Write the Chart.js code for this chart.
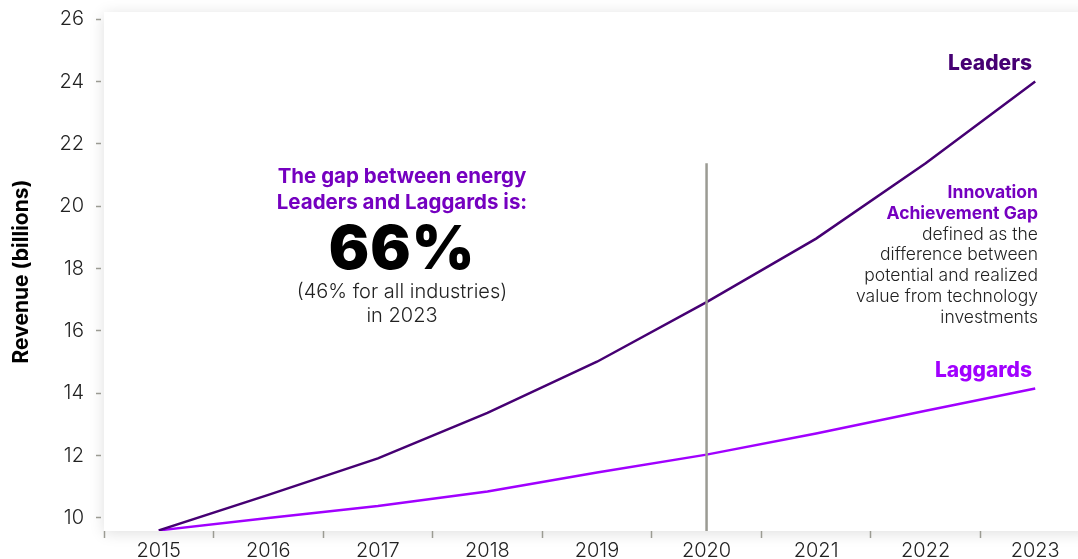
<!DOCTYPE html>
<html>
<head>
<meta charset="utf-8">
<script src="https://cdn.jsdelivr.net/npm/chart.js@4/dist/chart.umd.min.js"></script>
<style>
  html, body { margin: 0; padding: 0; background: #fff; }
  #viewport { position: relative; width: 1078px; height: 559px; overflow: hidden; }
  #chartBox { position: absolute; left: 0; top: 0; width: 1090px; height: 559px; }
  .note { position: absolute; font-family: Inter, "Noto Sans", sans-serif; white-space: nowrap; }
  #gapNote { left: 252px; top: 163px; width: 300px; text-align: center; }
  #gapNote .head { color: #7500C0; font-weight: 700; font-size: 20.5px; line-height: 26px; }
  #gapNote .big { color: #000; font-weight: 900; font-size: 60px; line-height: 64px; letter-spacing: 1px; }
  #gapNote .sub { color: #222; font-weight: 300; font-size: 20px; line-height: 24px; }
  #iagNote { right: 40px; top: 182px; text-align: right; font-size: 17.5px; line-height: 20.8px; }
  #iagNote .head { color: #7500C0; font-weight: 700; }
  #iagNote .body { color: #222; font-weight: 300; }
  .seriesLabel { font-weight: 800; font-size: 21px; right: 46px; }
</style>
</head>
<body>
<div id="viewport">
  <div id="chartBox"><canvas id="revenueChart"></canvas></div>
  <div class="note" id="gapNote">
    <div class="head">The gap between energy<br>Leaders and Laggards is:</div>
    <div class="big">66%</div>
    <div class="sub">(46% for all industries)<br>in 2023</div>
  </div>
  <div class="note" id="iagNote">
    <div class="head">Innovation<br>Achievement Gap</div>
    <div class="body">defined as the<br>difference between<br>potential and realized<br>value from technology<br>investments</div>
  </div>
  <div class="note seriesLabel" style="top: 50px; color: #460073;">Leaders</div>
  <div class="note seriesLabel" style="top: 357px; color: #A100FF;">Laggards</div>
</div>
<script>
const years = ["2015", "2016", "2017", "2018", "2019", "2020", "2021", "2022", "2023"];
const leaders = [9.6, 10.74, 11.91, 13.37, 15.01, 16.92, 18.96, 21.38, 24.0];
const laggards = [9.6, 10.0, 10.38, 10.85, 11.46, 12.03, 12.71, 13.44, 14.15];
const yTicks = [10, 12, 14, 16, 18, 20, 22, 24, 26];
const yMin = 9.58;
const yMax = 26.23;
const gapYear = "2020";
const gapTop = 21.38;

Chart.defaults.font.family = "Inter, 'Noto Sans', sans-serif";

const plotShadow = {
  id: "plotShadow",
  beforeDraw(chart) {
    const { ctx, chartArea } = chart;
    ctx.save();
    ctx.shadowColor = "rgba(0,0,0,0.13)";
    ctx.shadowBlur = 14;
    ctx.shadowOffsetY = 2;
    ctx.fillStyle = "#fff";
    ctx.fillRect(chartArea.left, chartArea.top, chartArea.right - chartArea.left, chartArea.bottom - chartArea.top);
    ctx.restore();
  },
};

const gapLine = {
  id: "gapLine",
  afterDatasetsDraw(chart) {
    const { ctx, chartArea, scales } = chart;
    const x = scales.x.getPixelForValue(years.indexOf(gapYear));
    const top = scales.y.getPixelForValue(gapTop);
    ctx.save();
    ctx.strokeStyle = "#9b9b93";
    ctx.lineWidth = 2.5;
    ctx.beginPath();
    ctx.moveTo(x, top);
    ctx.lineTo(x, chartArea.bottom);
    ctx.stroke();
    ctx.restore();
  },
};

new Chart(document.getElementById("revenueChart").getContext("2d"), {
  type: "line",
  data: {
    labels: years,
    datasets: [
      {
        label: "Leaders",
        data: leaders,
        borderColor: "#460073",
        borderWidth: 2.5,
        pointRadius: 0,
        tension: 0,
      },
      {
        label: "Laggards",
        data: laggards,
        borderColor: "#A100FF",
        borderWidth: 2.5,
        pointRadius: 0,
        tension: 0,
      },
    ],
  },
  options: {
    responsive: true,
    maintainAspectRatio: false,
    animation: false,
    layout: { padding: { top: 0, right: 0, left: 0, bottom: 0 } },
    plugins: {
      legend: { display: false },
      tooltip: { enabled: false },
    },
    scales: {
      x: {
        offset: true,
        border: { display: false },
        grid: {
          offset: true,
          drawOnChartArea: false,
          tickLength: 7,
          color: "#9b9b93",
          tickWidth: 1.5,
        },
        ticks: {
          color: "#222",
          padding: 1,
          font: { size: 20, weight: 300 },
          maxRotation: 0,
        },
        afterFit(scale) {
          scale.height = 28;
        },
      },
      y: {
        min: yMin,
        max: yMax,
        border: { display: false },
        grid: {
          drawOnChartArea: false,
          tickLength: 8,
          tickBorderDash: [5, 20],
          color: "#9b9b93",
          tickWidth: 1.5,
        },
        ticks: {
          color: "#222",
          padding: 12,
          font: { size: 20, weight: 300 },
        },
        afterBuildTicks(scale) {
          scale.ticks = yTicks.map((v) => ({ value: v }));
        },
        afterFit(scale) {
          scale.width = 104;
          scale.paddingTop = 12;
          scale.paddingBottom = 0;
        },
        title: {
          display: true,
          text: "Revenue (billions)",
          color: "#000",
          font: { size: 21, weight: 700 },
          padding: { top: 9, bottom: 0 },
        },
      },
    },
  },
  plugins: [plotShadow, gapLine],
});
</script>
</body>
</html>
